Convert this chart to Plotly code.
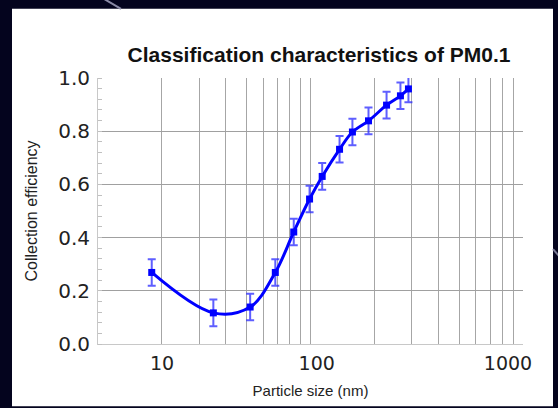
import plotly.graph_objects as go

# Data
particle_size_nm = [17.9, 34.9, 52, 68.3, 83.4, 99, 113.5, 137, 157.5, 187.5, 228, 265, 289]
efficiency = [0.269, 0.117, 0.139, 0.269, 0.421, 0.545, 0.630, 0.732, 0.797, 0.839, 0.898, 0.933, 0.959]
efficiency_err = [0.05] * len(efficiency)

x_tick_positions = [20, 107, 850]
x_tick_labels = ["10", "100", "1000"]
x_grid_values = [20, 30, 40, 50, 60, 70, 80, 90, 100, 200, 300, 400, 500, 600, 700, 800, 900, 1000]
y_tick_values = [0.0, 0.2, 0.4, 0.6, 0.8, 1.0]
y_tick_labels = ["0.0", "0.2", "0.4", "0.6", "0.8", "1.0"]

W, H = 558, 408
L, R, T, B = 98, 35, 78, 61
pw = W - L - R
ph = H - T - B

def px_x(p):
    return (p - L) / pw

def px_y(p):
    return (H - B - p) / ph

fig = go.Figure()
fig.add_trace(go.Scatter(
    x=particle_size_nm, y=efficiency,
    mode="lines+markers",
    line=dict(color="#0000ff", width=3, shape="spline", smoothing=1.0),
    marker=dict(symbol="square", size=7, color="#0000ff"),
    error_y=dict(type="data", array=efficiency_err, visible=True,
                 color="rgba(40,40,255,0.75)", thickness=2, width=4),
    showlegend=False,
    cliponaxis=False,
))

fig.update_layout(
    width=W, height=H,
    margin=dict(l=L, r=R, t=T, b=B, pad=0),
    paper_bgcolor="#04041e",
    plot_bgcolor="#ffffff",
    title=dict(text="<b>Classification characteristics of PM0.1</b>",
               font=dict(family="Liberation Sans", size=21, color="#111111"),
               x=px_x(319), xref="paper", xanchor="center",
               y=1 - 55 / H, yref="container", yanchor="middle"),
    shapes=[
        dict(type="rect", xref="paper", yref="paper",
             x0=px_x(12), x1=px_x(553), y0=px_y(410), y1=px_y(8),
             fillcolor="#ffffff", line=dict(width=0), layer="below"),
        dict(type="line", xref="paper", yref="paper",
             x0=px_x(104), y0=px_y(-2), x1=px_x(121), y1=px_y(8),
             line=dict(color="#8a8aa6", width=2), layer="below"),
        dict(type="line", xref="paper", yref="paper",
             x0=px_x(553), y0=px_y(251), x1=px_x(559), y1=px_y(258),
             line=dict(color="#7a7a96", width=2), layer="below"),
    ],
)

fig.update_xaxes(
    type="log", range=[1, 3],
    tickmode="array", tickvals=x_tick_positions, ticktext=x_tick_labels,
    showgrid=False, ticks="", ticklabelstandoff=2,
    tickfont=dict(family="DejaVu Sans", size=19, color="#222222"),
    minor=dict(tickmode="array", tickvals=x_grid_values, showgrid=True,
               gridcolor="#a6a6a6", gridwidth=1, ticks=""),
    showline=True, linecolor="#c8c8c8", linewidth=1, mirror=False,
    zeroline=False,
    title=dict(text="Particle size (nm)",
               font=dict(family="Liberation Sans", size=15, color="#222222"),
               standoff=12),
)

fig.update_yaxes(
    range=[0, 1],
    tickmode="array", tickvals=y_tick_values, ticktext=y_tick_labels,
    showgrid=True, gridcolor="#a0a0a0", gridwidth=1,
    ticks="", ticklabelstandoff=3,
    tickfont=dict(family="DejaVu Sans", size=20, color="#222222"),
    minor=dict(dtick=0.04, ticks="inside", ticklen=4, tickcolor="#c0c0c0",
               showgrid=False),
    showline=True, linecolor="#c8c8c8", linewidth=1, mirror=False,
    zeroline=False,
    title=dict(text="Collection efficiency",
               font=dict(family="Liberation Sans", size=16, color="#222222"),
               standoff=16),
)

fig.write_html(
    "out.html",
    config={"displayModeBar": False},
    post_script="document.body.style.margin='0';document.body.style.padding='0';"
                "document.body.style.background='#04041e';",
)
